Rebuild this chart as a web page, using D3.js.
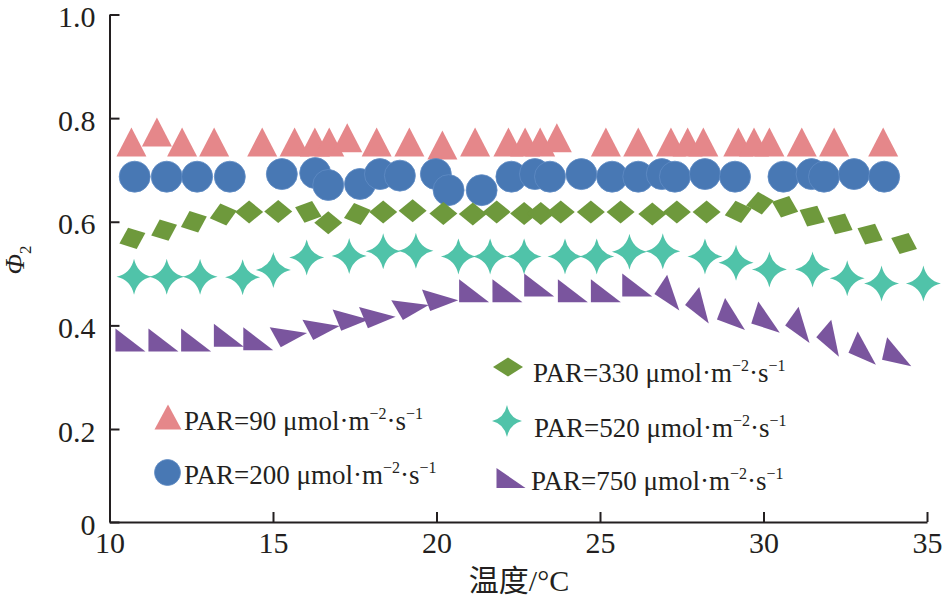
<!DOCTYPE html>
<html>
<head>
<meta charset="utf-8">
<script src="https://cdn.jsdelivr.net/npm/d3@7"></script>
<style>
  body { margin: 0; background: #fff; }
  svg { display: block; }
</style>
</head>
<body>
<div id="chart"></div>
<script>
// Φ2 vs temperature for five PAR levels
const xTicks = [10, 15, 20, 25, 30, 35];
const yTicks = [0, 0.2, 0.4, 0.6, 0.8, 1.0];

const t90 = [10.67, 11.45, 12.22, 13.20, 14.67, 15.66, 16.28, 16.72, 17.27, 18.17, 19.17, 20.18, 21.18, 22.20,
  22.71, 23.17, 23.68, 25.18, 26.17, 27.17, 27.68, 28.16, 29.23, 29.71, 30.18, 31.17, 32.16, 33.66];
const v90 = [0.754, 0.773, 0.754, 0.754, 0.754, 0.754, 0.754, 0.754, 0.762, 0.754, 0.754, 0.748, 0.754, 0.754,
  0.754, 0.754, 0.762, 0.754, 0.754, 0.754, 0.754, 0.754, 0.754, 0.754, 0.754, 0.754, 0.754, 0.754];

const t200 = [10.77, 11.75, 12.68, 13.68, 15.27, 16.29, 16.69, 17.66, 18.27, 18.88, 19.98, 20.37, 21.38, 22.29,
  23.01, 23.47, 24.43, 25.37, 26.17, 26.89, 27.29, 28.21, 29.13, 30.61, 31.47, 31.85, 32.77, 33.69];
const v200 = [0.687, 0.687, 0.687, 0.687, 0.692, 0.694, 0.671, 0.673, 0.692, 0.689, 0.692, 0.661, 0.661, 0.687,
  0.692, 0.687, 0.692, 0.687, 0.687, 0.692, 0.687, 0.692, 0.687, 0.687, 0.692, 0.687, 0.692, 0.687];

const t330 = [10.70, 11.67, 12.58, 13.48, 14.27, 15.16, 16.08, 16.69, 17.58, 18.37, 19.27, 20.21, 21.11, 21.84,
  22.68, 23.19, 23.80, 24.72, 25.63, 26.60, 27.35, 28.26, 29.23, 29.89, 30.66, 31.49, 32.34, 33.26, 34.30];
const v330 = [0.568, 0.584, 0.600, 0.614, 0.619, 0.620, 0.619, 0.598, 0.615, 0.619, 0.621, 0.616, 0.615, 0.619,
  0.616, 0.616, 0.619, 0.619, 0.619, 0.615, 0.619, 0.619, 0.619, 0.636, 0.629, 0.611, 0.596, 0.576, 0.558];

const t520 = [10.75, 11.75, 12.77, 14.07, 15.01, 16.03, 17.33, 18.37, 19.37, 20.67, 21.64, 22.68, 23.93, 24.90,
  25.90, 26.92, 28.21, 29.16, 30.18, 31.50, 32.56, 33.61, 34.89];
const v520 = [0.494, 0.494, 0.494, 0.493, 0.507, 0.531, 0.534, 0.543, 0.544, 0.533, 0.533, 0.533, 0.533, 0.533,
  0.542, 0.543, 0.533, 0.521, 0.508, 0.508, 0.491, 0.481, 0.481];

const t750 = [10.64, 11.65, 12.65, 13.65, 14.55, 15.47, 16.47, 17.38, 18.19, 19.19, 20.11, 21.15, 22.17, 23.14,
  24.17, 25.18, 26.14, 27.24, 28.18, 29.13, 30.17, 31.24, 32.19, 33.16, 34.15];
const v750 = [0.372, 0.372, 0.372, 0.381, 0.374, 0.391, 0.405, 0.421, 0.426, 0.444, 0.459, 0.467, 0.467, 0.478,
  0.467, 0.467, 0.478, 0.463, 0.439, 0.422, 0.416, 0.401, 0.375, 0.356, 0.349];

const seriesNames = ["PAR=90", "PAR=200", "PAR=330", "PAR=520", "PAR=750"];

const width = 944, height = 601;
const serif = "'Liberation Serif', 'Times New Roman', serif";

const x = d3.scaleLinear().domain([10, 35]).range([109.5, 927]);
// the original axis is compressed between 0 and 0.2
const y = d3.scaleLinear().domain([0, 0.2, 1.0]).range([522, 429, 14.5]);

const svg = d3.select("#chart").append("svg")
  .attr("width", width)
  .attr("height", height);

// marker shapes
const triUp = (w, h) => `M0,${-h / 2}L${w / 2},${h / 2}L${-w / 2},${h / 2}Z`;
const rightTri = (w, h) => `M${-w / 2},${-h / 2}L${-w / 2},${h / 2}L${w / 2},${h / 2}Z`;
const rhombus = (w, h) => `M${-w / 2},0L0,${-h / 2}L${w / 2},0L0,${h / 2}Z`;
function star4(rx, ry) {
  const cx = rx * 0.18, cy = ry * 0.18;
  return `M0,${-ry}Q${cx},${-cy} ${rx},0Q${cx},${cy} 0,${ry}Q${-cx},${cy} ${-rx},0Q${-cx},${-cy} 0,${-ry}Z`;
}

// tilt of a marker, following the local trend of its series
function slopeAngle(ts, vs, i) {
  const a = Math.max(0, i - 1), b = Math.min(ts.length - 1, i + 1);
  const ang = Math.atan2(y(vs[b]) - y(vs[a]), x(ts[b]) - x(ts[a])) * 180 / Math.PI;
  return Math.abs(ang) < 6 ? 0 : ang;
}

const colors = ["#e5878a", "#4878b4", "#6e993c", "#50c3a9", "#7a559e"];

const marks = svg.append("g");

// PAR=90 triangles
marks.append("g").selectAll("path")
  .data(t90.map((t, i) => [t, v90[i]]))
  .join("path")
  .attr("d", triUp(30, 29))
  .attr("transform", d => `translate(${x(d[0])},${y(d[1])})`)
  .attr("fill", colors[0]);

// PAR=200 circles
marks.append("g").selectAll("circle")
  .data(t200.map((t, i) => [t, v200[i]]))
  .join("circle")
  .attr("cx", d => x(d[0]))
  .attr("cy", d => y(d[1]))
  .attr("r", 15.5)
  .attr("fill", colors[1])
  .attr("stroke", "#5f8cc4")
  .attr("stroke-width", 0.8);

// PAR=330 diamonds
marks.append("g").selectAll("path")
  .data(t330.map((t, i) => [t, v330[i], slopeAngle(t330, v330, i)]))
  .join("path")
  .attr("d", rhombus(28, 23))
  .attr("transform", d => `translate(${x(d[0])},${y(d[1])}) rotate(${d[2] * 1.5})`)
  .attr("fill", colors[2]);

// PAR=520 stars
marks.append("g").selectAll("path")
  .data(t520.map((t, i) => [t, v520[i]]))
  .join("path")
  .attr("d", star4(17.5, 18))
  .attr("transform", d => `translate(${x(d[0])},${y(d[1])})`)
  .attr("fill", colors[3]);

// PAR=750 right triangles
marks.append("g").selectAll("path")
  .data(t750.map((t, i) => [t, v750[i], slopeAngle(t750, v750, i)]))
  .join("path")
  .attr("d", rightTri(30, 23))
  .attr("transform", d => `translate(${x(d[0])},${y(d[1])}) rotate(${d[2] * 2})`)
  .attr("fill", colors[4]);

// axes
const xAxis = svg.append("g")
  .attr("transform", `translate(0,${y(0)})`)
  .call(d3.axisBottom(x).tickValues(xTicks).tickSizeInner(-10).tickSizeOuter(0).tickPadding(10));

const yAxis = svg.append("g")
  .attr("transform", `translate(${x(10)},0)`)
  .call(d3.axisLeft(y).tickValues(yTicks).tickSizeInner(-10).tickSizeOuter(0).tickPadding(14)
    .tickFormat(d => d === 0 ? "0" : d3.format(".1f")(d)));

[xAxis, yAxis].forEach(g => {
  g.attr("font-family", serif).attr("font-size", 30);
  g.selectAll("path, line").attr("stroke", "#231f20").attr("stroke-width", 2);
  g.selectAll("text").attr("fill", "#231f20");
});
yAxis.selectAll("text").attr("dy", "0.4em");

// axis titles
svg.append("text")
  .attr("x", 519)
  .attr("y", 591)
  .attr("text-anchor", "middle")
  .attr("font-family", serif + ", 'Noto Sans CJK SC'")
  .attr("font-size", 30)
  .attr("fill", "#231f20")
  .text("温度/°C");

const yTitle = svg.append("text")
  .attr("transform", "translate(24,260) rotate(-90)")
  .attr("text-anchor", "middle")
  .attr("font-family", serif)
  .attr("font-size", 27)
  .attr("fill", "#231f20");
yTitle.append("tspan").attr("font-style", "italic").text("Φ");
yTitle.append("tspan").attr("font-size", 17).attr("dy", 7).text("2");

// legend
const legendItems = [
  { name: seriesNames[0], mx: 168, my: 417, tx: 184, ty: 430, shape: triUp(27, 25) },
  { name: seriesNames[1], mx: 167.5, my: 472.5, tx: 184, ty: 484, circle: 13 },
  { name: seriesNames[2], mx: 508, my: 367, tx: 533, ty: 382, shape: rhombus(30, 19) },
  { name: seriesNames[3], mx: 507, my: 421, tx: 534, ty: 437, shape: star4(15, 16) },
  { name: seriesNames[4], mx: 511, my: 478, tx: 531, ty: 490, shape: rightTri(29, 20) }
];

const legend = svg.append("g");
legendItems.forEach((d, i) => {
  if (d.circle) {
    legend.append("circle").attr("cx", d.mx).attr("cy", d.my).attr("r", d.circle)
      .attr("fill", colors[i]).attr("stroke", "#5f8cc4").attr("stroke-width", 0.8);
  } else {
    legend.append("path").attr("d", d.shape)
      .attr("transform", `translate(${d.mx},${d.my})`)
      .attr("fill", colors[i]);
  }
  const txt = legend.append("text")
    .attr("x", d.tx)
    .attr("y", d.ty)
    .attr("font-family", serif)
    .attr("font-size", 27)
    .attr("fill", "#231f20");
  txt.append("tspan").text(d.name + " μmol·m");
  txt.append("tspan").attr("font-size", 16).attr("dy", -11).text("−2");
  txt.append("tspan").attr("dy", 11).text("·s");
  txt.append("tspan").attr("font-size", 16).attr("dy", -11).text("−1");
});
</script>
</body>
</html>
